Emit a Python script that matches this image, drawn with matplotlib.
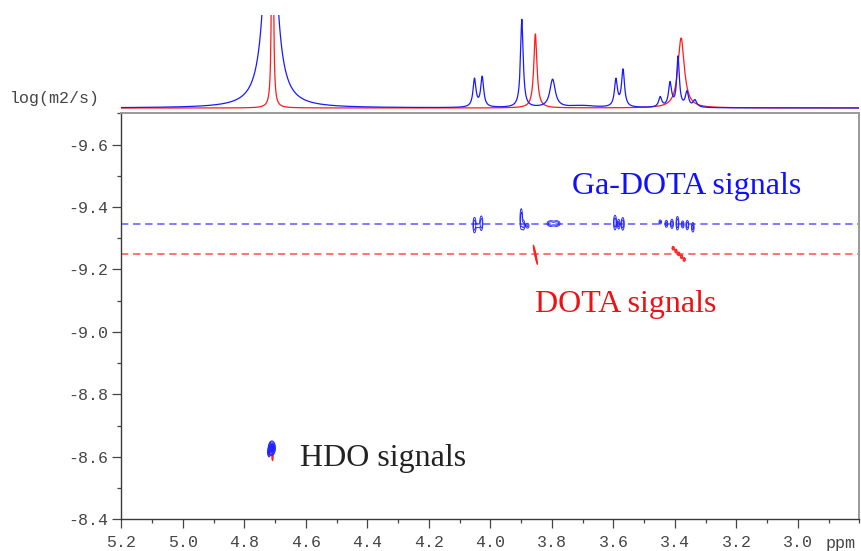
import numpy as np
import matplotlib
matplotlib.use("Agg")
import matplotlib.pyplot as plt
from matplotlib.ticker import MultipleLocator, FormatStrFormatter

W, H = 862, 551

# ---------------- data ----------------
x_range = (5.2, 2.8)          # ppm (reversed)
y_range = (-8.4, -9.7)        # log(m2/s) (reversed)
x_ticks = [5.2, 5.0, 4.8, 4.6, 4.4, 4.2, 4.0, 3.8, 3.6, 3.4, 3.2, 3.0]
y_ticks = [-9.6, -9.4, -9.2, -9.0, -8.8, -8.6, -8.4]

# 1D projection peaks (ppm, height, half-width ppm)
blue_peak_ppm = [4.716, 4.052, 4.027, 3.898, 3.798, 3.700, 3.592, 3.569, 3.448, 3.416, 3.390, 3.361, 3.335]
blue_peak_h   = [277,   28,    30,    88,    28,    2.0,   27,    37,    10,    24,    50,    15,    7]
blue_peak_w   = [0.0195, 0.0058, 0.0058, 0.0052, 0.0105, 0.05, 0.0058, 0.0058, 0.006, 0.006, 0.005, 0.006, 0.007]

red_peak_ppm = [4.709, 3.854, 3.380]
red_peak_h   = [800,   74,    70]
red_peak_w   = [0.0016, 0.0062, 0.0125]

# diffusion levels
ga_dota_D = -9.345
dota_D = -9.25

# 2D cross peaks: ppm, D, sigma_ppm, sigma_D, amplitude, tilt (dppm/dD)
blue_xp_ppm = [4.052, 4.030, 4.041,
               3.900, 3.893, 3.880,
               3.805, 3.785,
               3.595, 3.583, 3.570,
               3.448, 3.428, 3.410, 3.392, 3.375, 3.360, 3.342,
               4.711, 4.720]
blue_xp_D   = [-9.342, -9.348, -9.340,
               -9.362, -9.342, -9.340,
               -9.347, -9.347,
               -9.350, -9.345, -9.346,
               -9.352, -9.346, -9.346, -9.348, -9.344, -9.342, -9.335,
               -8.628, -8.615]
blue_xp_sx  = [0.0033, 0.0033, 0.0040,
               0.0027, 0.0032, 0.0040,
               0.0075, 0.0075,
               0.0032, 0.0030, 0.0032,
               0.0032, 0.0032, 0.0032, 0.0030, 0.0032, 0.0032, 0.0030,
               0.0045, 0.0022]
blue_xp_sy  = [0.016, 0.015, 0.006,
               0.021, 0.011, 0.006,
               0.006, 0.006,
               0.015, 0.011, 0.013,
               0.005, 0.008, 0.010, 0.014, 0.008, 0.010, 0.011,
               0.009, 0.007]
blue_xp_amp = [1.0, 1.0, 0.5,
               1.0, 0.8, 0.7,
               0.9, 0.9,
               1.0, 0.8, 1.0,
               0.7, 0.8, 0.9, 1.0, 0.8, 0.9, 0.8,
               8.0, 3.0]

red_xp_ppm  = [3.854, 3.406, 3.397, 3.388, 3.379, 3.370, 4.709]
red_xp_D    = [-9.247, -9.268, -9.259, -9.250, -9.241, -9.232, -8.600]
red_xp_sx   = [0.0015, 0.0025, 0.0025, 0.0025, 0.0025, 0.0025, 0.0011]
red_xp_sy   = [0.020, 0.004, 0.004, 0.004, 0.004, 0.004, 0.008]
red_xp_amp  = [1.0, 0.9, 0.9, 0.9, 0.9, 0.9, 1.0]
red_xp_tilt = [-0.214, 0.0, 0.0, 0.0, 0.0, 0.0, 0.0]

labels = {"ga": "Ga-DOTA signals", "dota": "DOTA signals", "hdo": "HDO signals"}

# ---------------- figure ----------------
mono = ["Liberation Mono", "DejaVu Sans Mono"]
serif = ["Liberation Serif", "DejaVu Serif"]
fig = plt.figure(figsize=(W / 100, H / 100), dpi=100)

def fx(px):
    return px / W

def fy(py):
    return 1 - py / H

L, R, T, B = 121.5, 859.5, 113.3, 519.3
ax = fig.add_axes([fx(L), fy(B), fx(R) - fx(L), fy(T) - fy(B)])
ax.set_xlim(*x_range)
ax.set_ylim(*y_range)

for s in ["left", "bottom"]:
    ax.spines[s].set_color("#3a3a3a")
    ax.spines[s].set_linewidth(1.0)
for s in ["top", "right"]:
    ax.spines[s].set_color("#9a9a9a")
    ax.spines[s].set_linewidth(1.4)

ax.set_xticks(x_ticks)
ax.set_yticks(y_ticks)
ax.xaxis.set_minor_locator(MultipleLocator(0.1))
ax.yaxis.set_minor_locator(MultipleLocator(0.1))
ax.xaxis.set_major_formatter(FormatStrFormatter("%.1f"))
ax.yaxis.set_major_formatter(FormatStrFormatter("%.1f"))
ax.tick_params(which="major", direction="out", length=6.5, width=0.9, color="#444444",
               labelsize=12, labelcolor="#454545")
ax.tick_params(which="minor", direction="out", length=3, width=0.9, color="#444444")
ax.tick_params(axis="x", which="major", pad=5)
ax.tick_params(axis="y", which="major", pad=3)
for lab in ax.get_xticklabels() + ax.get_yticklabels():
    lab.set_family(mono)

# dashed diffusion lines
ax.axhline(ga_dota_D, color=(0.35, 0.35, 1.0), lw=1.1, ls=(0, (4.8, 3.1)), zorder=1)
ax.axhline(dota_D, color=(1.0, 0.3, 0.3), lw=1.1, ls=(0, (4.8, 3.1)), zorder=1)

# cross peaks as contours
def field(P, D, ppm, dd, sx, sy, amp, tilt):
    Z = np.zeros_like(P)
    for p0, d0, a, b, A, t in zip(ppm, dd, sx, sy, amp, tilt):
        u = (P - p0 - t * (D - d0)) / a
        v = (D - d0) / b
        Z += A * np.exp(-0.5 * (u * u + v * v))
    return Z

levels = [0.3, 0.6, 1.5, 2.3, 3.1, 3.9, 4.7, 5.5, 6.3, 7.1, 7.9]
bands = [((2.8, 5.2), (-9.43, -9.17)), ((4.64, 4.78), (-8.70, -8.55))]
blue_tilt = [0.0] * len(blue_xp_ppm)
for (pr, dr) in bands:
    pg = np.linspace(pr[0], pr[1], int((pr[1] - pr[0]) / 0.0007))
    dg = np.linspace(dr[0], dr[1], int((dr[1] - dr[0]) / 0.0007))
    P, D = np.meshgrid(pg, dg)
    Zb = field(P, D, blue_xp_ppm, blue_xp_D, blue_xp_sx, blue_xp_sy, blue_xp_amp, blue_tilt)
    Zr = field(P, D, red_xp_ppm, red_xp_D, red_xp_sx, red_xp_sy, red_xp_amp, red_xp_tilt)
    if Zr.max() > levels[0]:
        ax.contour(P, D, Zr, levels=levels, colors=["#ff2020"], linewidths=0.75, zorder=3)
    if Zb.max() > levels[0]:
        ax.contour(P, D, Zb, levels=levels, colors=["#2020ff"], linewidths=0.65, zorder=4)

# annotations
fig.text(fx(572), fy(194), labels["ga"], color="#1010ff", fontsize=23, family=serif, va="baseline")
fig.text(fx(535), fy(312), labels["dota"], color="#ee1111", fontsize=23, family=serif, va="baseline")
fig.text(fx(300), fy(466), labels["hdo"], color="#222222", fontsize=23, family=serif, va="baseline")

fig.text(fx(10), fy(103), "log(m2/s)", color="#454545", fontsize=12, family=mono, va="baseline")
fig.text(fx(826), fy(548), "ppm", color="#454545", fontsize=12, family=mono, va="baseline")

# ---------------- 1D projection ----------------
axs = fig.add_axes([fx(L), fy(109), fx(R) - fx(L), fy(15) - fy(109)])
axs.set_xlim(*x_range)
axs.set_ylim(-1, 93)
axs.axis("off")
ppm = np.linspace(2.8, 5.2, 8000)

def spectrum(pos, h, w):
    s = np.zeros_like(ppm)
    for p0, a, b in zip(pos, h, w):
        s += a / (1 + ((ppm - p0) / b) ** 2)
    return s

axs.plot(ppm, spectrum(red_peak_ppm, red_peak_h, red_peak_w), color="#ff1a1a", lw=0.9)
axs.plot(ppm, spectrum(blue_peak_ppm, blue_peak_h, blue_peak_w), color="#1a1aff", lw=0.9)

fig.savefig("out.png", dpi=100)
